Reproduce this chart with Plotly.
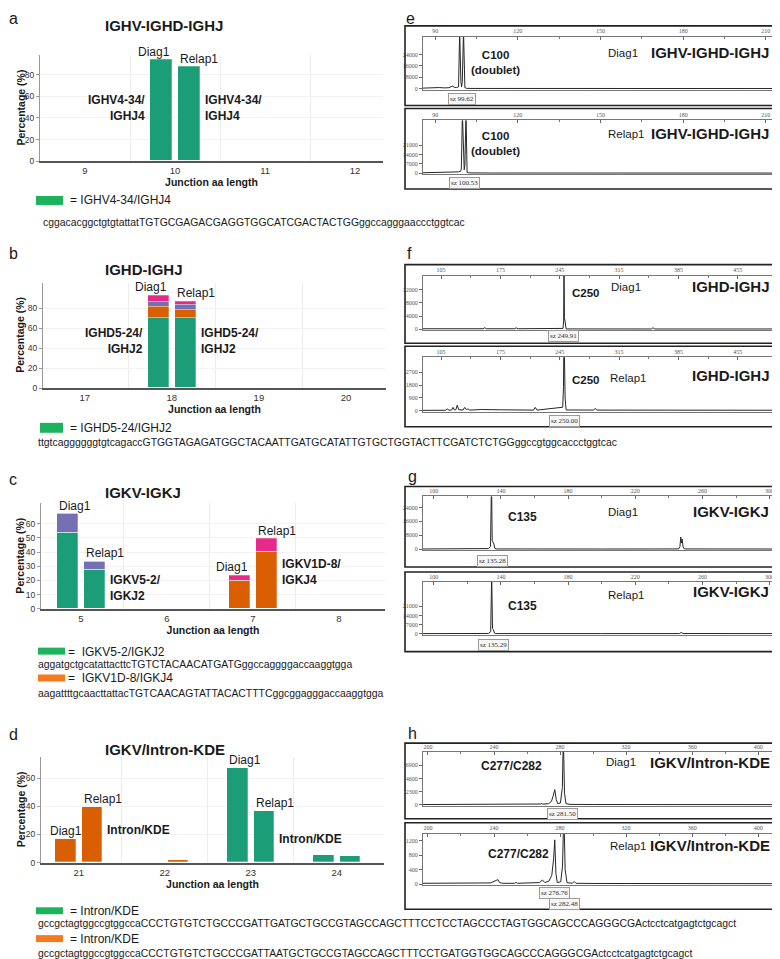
import plotly.graph_objects as go

W, H = 780, 959
SANS = "Liberation Sans, Arial, Helvetica, sans-serif"
SERIF = "Liberation Serif, Times New Roman, serif"
TXT = "#1a1a1a"

GREEN, ORANGE, PURPLE, MAGENTA = "#1b9e77", "#d95f02", "#7570b3", "#e7298a"
LEG_GREEN, LEG_ORANGE = "#1db35c", "#f47a20"

# ---------------- left column: junction length distributions (%) ----------------
a_lengths = [9, 10, 11, 12]
a_green_diag = [0, 94, 0.6, 0]
a_green_relap = [0, 87, 0.6, 0]

b_lengths = [17, 18, 19, 20]
b_green_diag = [0, 71, 0, 0]
b_green_relap = [0, 71, 0, 0]
b_orange_diag = [0, 11, 0, 0]
b_orange_relap = [0, 8, 0, 0]
b_purple_diag = [0, 5, 0, 0]
b_purple_relap = [0, 4.5, 0, 0]
b_magenta_diag = [0, 6, 0, 0]
b_magenta_relap = [0, 3.5, 0, 0]

c_lengths = [5, 6, 7, 8]
c_green_diag = [54, 0, 0, 0]
c_green_relap = [27.7, 0, 0, 0]
c_orange_diag = [0, 0, 20, 0]
c_orange_relap = [0, 0, 40.5, 0]
c_purple_diag = [13, 0, 0, 0]
c_purple_relap = [6, 0, 0, 0]
c_magenta_diag = [0, 0, 3.8, 0]
c_magenta_relap = [0, 0, 9, 0.4]

d_lengths = [21, 22, 23, 24]
d_orange_diag = [16.4, 0.4, 0, 0]
d_orange_relap = [39.6, 1.4, 0, 0]
d_green_diag = [0, 0, 67, 5.4]
d_green_relap = [0, 0, 36.3, 4.9]

a_legend = ["= IGHV4-34/IGHJ4"]
a_seqs = ["cggacacggctgtgtattatTGTGCGAGACGAGGTGGCATCGACTACTGGggccagggaaccctggtcac"]
b_legend = ["= IGHD5-24/IGHJ2"]
b_seqs = ["ttgtcaggggggtgtcagaccGTGGTAGAGATGGCTACAATTGATGCATATTGTGCTGGTACTTCGATCTCTGGggccgtggcaccctggtcac"]
c_legend = ["=  IGKV5-2/IGKJ2", "=  IGKV1D-8/IGKJ4"]
c_seqs = ["aggatgctgcatattacttcTGTCTACAACATGATGggccaggggaccaaggtgga",
          "aagattttgcaacttattacTGTCAACAGTATTACACTTTCggcggagggaccaaggtgga"]
d_legend = ["= Intron/KDE", "= Intron/KDE"]
d_seqs = ["gccgctagtggccgtggccaCCCTGTGTCTGCCCGATTGATGCTGCCGTAGCCAGCTTTCCTCCTAGCCCTAGTGGCAGCCCAGGGCGActcctcatgagtctgcagct",
          "gccgctagtggccgtggccaCCCTGTGTCTGCCCGATTAATGCTGCCGTAGCCAGCTTTCCTGATGGTGGCAGCCCAGGGCGActcctcatgagtctgcagct"]

# ---------------- right column: GeneScan electropherograms (size bp, RFU) ----------------
e_xticks = [90, 120, 150, 180, 210]
e_diag_yticks = [0, 8000, 16000, 24000]
e_relap_yticks = [0, 7000, 14000, 21000]
e_diag_bp = [85.6, 87.5, 89.5, 91.5, 93.5, 95.0, 95.8, 96.4, 97.0, 97.8, 98.5, 98.9, 99.35, 99.6, 99.85, 100.3, 100.8, 101.4, 103.0, 130.0, 170.0, 214.4]
e_diag_rfu = [300, 500, 350, 700, 450, 600, 1300, 1700, 800, 700, 1200, 40000, 5000, 1200, 5000, 40000, 600, 150, 60, 0, 0, 0]
e_relap_bp = [85.6, 90.0, 94.0, 97.0, 98.5, 99.2, 99.5, 99.9, 100.3, 100.55, 100.8, 101.2, 101.6, 102.2, 110.0, 150.0, 214.4]
e_relap_rfu = [250, 350, 300, 350, 900, 1300, 3000, 45000, 6000, 2500, 6000, 45000, 500, 150, 50, 0, 0]
e_diag_sz = [99.62]
e_relap_sz = [100.53]

f_xticks = [105, 175, 245, 315, 385, 455]
f_diag_yticks = [0, 4000, 8000, 12000]
f_relap_yticks = [0, 900, 1800, 2700]
f_diag_bp = [83.7, 120, 154.5, 156.5, 158.5, 191.5, 193.7, 196, 248.8, 249.6, 250.0, 250.5, 251.0, 251.6, 252.5, 353, 355, 357, 502.4]
f_diag_rfu = [150, 150, 150, 450, 150, 150, 400, 150, 250, 2500, 20000, 3500, 2800, 600, 100, 80, 450, 80, 80]
f_relap_bp = [83.7, 110.5, 112.4, 114.3, 117.5, 119.1, 120.7, 122.5, 124.1, 125.8, 131.0, 132.9, 134.8, 136.8, 138.8, 152.5, 176.0, 214.0, 216.1, 218.2, 248.5, 249.4, 250.0, 250.6, 251.3, 252.5, 285.0, 286.9, 288.8, 502.4]
f_relap_rfu = [30, 40, 130, 40, 60, 240, 60, 80, 400, 80, 60, 240, 90, 130, 50, 90, 70, 50, 240, 50, 250, 1700, 6000, 1400, 900, 60, 50, 170, 50, 40]
f_diag_sz = [249.91]
f_relap_sz = [250.00]

g_xticks = [100, 140, 180, 220, 260, 300]
g_diag_yticks = [0, 8000, 16000, 24000]
g_relap_yticks = [0, 7000, 14000, 21000]
g_diag_bp = [93.6, 120, 131.0, 132.5, 133.8, 134.4, 134.8, 135.3, 135.8, 136.4, 137.2, 200, 245.8, 246.6, 247.1, 247.5, 247.9, 248.5, 249.2, 305]
g_diag_rfu = [80, 100, 150, 300, 1500, 40000, 5000, 4000, 3000, 400, 100, 60, 100, 1500, 6900, 3500, 5800, 1200, 100, 60]
g_relap_bp = [93.6, 125, 132.5, 133.9, 134.5, 135.0, 135.5, 136.2, 137.0, 200, 246.3, 247.4, 248.5, 305]
g_relap_rfu = [60, 80, 150, 1500, 45000, 4000, 3200, 400, 80, 60, 100, 900, 120, 60]
g_diag_sz = [135.28]
g_relap_sz = [135.29]

h_xticks = [200, 240, 280, 320, 360, 400]
h_diag_yticks = [0, 2300, 4600, 6900]
h_relap_yticks = [0, 400, 800, 1200]
h_diag_bp = [197, 230, 255, 265, 268.0, 268.8, 269.6, 273.0, 274.8, 275.8, 276.8, 277.7, 278.6, 280.2, 281.4, 282.0, 282.7, 283.6, 286, 300, 412]
h_diag_rfu = [40, 50, 80, 100, 130, 200, 120, 180, 600, 1500, 2650, 900, 200, 300, 3000, 12000, 2000, 200, 70, 40, 30]
h_relap_bp = [197, 238, 241.4, 242.4, 243.4, 245, 252.5, 253.4, 254.3, 267.5, 269.3, 270.8, 273.3, 275.0, 276.1, 276.8, 277.5, 278.3, 280.4, 281.5, 282.3, 283.1, 284.2, 287.5, 288.5, 289.6, 300, 412]
h_relap_rfu = [30, 40, 110, 130, 50, 30, 30, 55, 30, 50, 120, 50, 90, 250, 700, 1220, 300, 50, 70, 500, 2000, 400, 50, 30, 80, 30, 25, 20]
h_diag_sz = [281.50]
h_relap_sz = [276.76, 282.48]


def X(p):
    return p / W


def Y(p):
    return 1 - p / H


fig = go.Figure()
ann, shapes, axes = [], [], {}
OFF, BW = 0.155, 0.24


def txt(text, x, y, size, bold=False, xanchor="center", yanchor="middle", family=SANS, color=TXT, **kw):
    if bold:
        text = "<b>" + text + "</b>"
    d = dict(text=text, x=X(x), y=Y(y), xref="paper", yref="paper", showarrow=False,
             xanchor=xanchor, yanchor=yanchor, font=dict(size=size, family=family, color=color))
    d.update(kw)
    ann.append(d)


bar_panels = [
    dict(letter="a", ly=0, title="IGHV-IGHD-IGHJ", ty=18, lengths=a_lengths,
         stacks=[(GREEN, a_green_diag, a_green_relap)],
         xpx=(32, 375), ypx=(47, 154), xr=(8.5, 12.31), ytop=98.4, yticks=[0, 20, 40, 60, 80],
         labels=[(1, "right", "left")],
         genes=[(1, "L", "IGHV4-34/<br>IGHJ4", 49), (1, "R", "IGHV4-34/<br>IGHJ4", 49)], xts=0,
         legend=[(LEG_GREEN, a_legend[0], a_seqs[0], (28, 55, 189, 198), 60, 193.5, 33, 216)]),
    dict(letter="b", ly=236, title="IGHD-IGHJ", ty=263, lengths=b_lengths,
         stacks=[(GREEN, b_green_diag, b_green_relap), (ORANGE, b_orange_diag, b_orange_relap),
                 (PURPLE, b_purple_diag, b_purple_relap), (MAGENTA, b_magenta_diag, b_magenta_relap)],
         xpx=(35, 378), ypx=(276, 382), xr=(16.52, 20.46), ytop=106, yticks=[0, 20, 40, 60, 80],
         labels=[(1, "right", "left")],
         genes=[(1, "L", "IGHD5-24/<br>IGHJ2", 47), (1, "R", "IGHD5-24/<br>IGHJ2", 47)], xts=0,
         legend=[(LEG_GREEN, b_legend[0], b_seqs[0], (32, 55, 417, 427), 60, 422, 28, 437)]),
    dict(letter="c", ly=463, title="IGKV-IGKJ", ty=487, lengths=c_lengths,
         stacks=[(GREEN, c_green_diag, c_green_relap), (ORANGE, c_orange_diag, c_orange_relap),
                 (PURPLE, c_purple_diag, c_purple_relap), (MAGENTA, c_magenta_diag, c_magenta_relap)],
         xpx=(33, 377), ypx=(498, 604), xr=(4.535, 8.535), ytop=74.2, yticks=[0, 10, 20, 30, 40, 50, 60],
         labels=[(0, "left", "left"), (2, "right", "left")],
         genes=[(0, "R", "IGKV5-2/<br>IGKJ2", 15), (2, "R", "IGKV1D-8/<br>IGKJ4", 26)], xts=0,
         legend=[(LEG_GREEN, c_legend[0], c_seqs[0], (30, 57, 643, 650), 58, 647, 28, 660),
                 (LEG_ORANGE, c_legend[1], c_seqs[1], (30, 57, 670, 677), 58, 674, 28, 689)]),
    dict(letter="d", ly=720, title="IGKV/Intron-KDE", ty=745, lengths=d_lengths,
         stacks=[(GREEN, d_green_diag, d_green_relap), (ORANGE, d_orange_diag, d_orange_relap)],
         xpx=(33, 376), ypx=(753, 859), xr=(20.56, 24.55), ytop=75, yticks=[0, 20, 40, 60],
         labels=[(0, "center", "left"), (2, "left", "left")],
         genes=[(0, "R", "Intron/KDE", 23), (2, "R", "Intron/KDE", 17)], xts=3,
         legend=[(LEG_GREEN, d_legend[0], d_seqs[0], (28, 55, 904, 911), 60, 907.5, 28, 920.5),
                 (LEG_ORANGE, d_legend[1], d_seqs[1], (28, 55, 932, 939), 60, 935.5, 28, 950)]),
]

idx = 0
for P in bar_panels:
    idx += 1
    s = "" if idx == 1 else str(idx)
    xref, yref = "x" + s, "y" + s
    n = len(P["lengths"])
    tot_d = [0.0] * n
    tot_r = [0.0] * n
    for color, dv, rv in P["stacks"]:
        xs = [c - OFF for c in P["lengths"]] + [c + OFF for c in P["lengths"]]
        fig.add_trace(go.Bar(x=xs, y=list(dv) + list(rv), width=BW,
                             marker=dict(color=color, line=dict(width=0.6, color="rgba(255,255,255,0.45)")),
                             xaxis=xref, yaxis=yref, showlegend=False, hoverinfo="skip"))
        for k in range(n):
            tot_d[k] += dv[k]
            tot_r[k] += rv[k]
    axes["xaxis" + s] = dict(
        domain=[X(P["xpx"][0]), X(P["xpx"][1])], anchor=yref, range=list(P["xr"]),
        tickmode="array", tickvals=P["lengths"], ticktext=[str(v) for v in P["lengths"]],
        showline=True, linecolor="#555", linewidth=1.6, ticks="", showgrid=False, zeroline=False,
        tickfont=dict(size=9.5, family=SANS, color="#333"),
        title=dict(text="<b>Junction aa length</b>", font=dict(size=10.5, family=SANS, color=TXT), standoff=P["xts"]),
        minor=dict(tickmode="array", tickvals=[c + 0.5 for c in P["lengths"][:-1]], showgrid=True,
                   gridcolor="#ececec", gridwidth=1, ticks=""))
    axes["yaxis" + s] = dict(
        domain=[Y(P["ypx"][1]), Y(P["ypx"][0])], anchor=xref, range=[0, P["ytop"]],
        tickmode="array", tickvals=P["yticks"], showline=True, linecolor="#999", linewidth=1,
        ticks="outside", ticklen=3, tickcolor="#999", showgrid=True, gridcolor="#f2f2f2", zeroline=False,
        tickfont=dict(size=8.5, family=SANS, color="#333"))
    txt("Percentage (%)", 12.5, (P["ypx"][0] + P["ypx"][1]) / 2, 10.5, bold=True, textangle=-90)
    for k, dal, ral in P["labels"]:
        c = P["lengths"][k]
        for name, tot, off, anc in (("Diag1", tot_d[k], -OFF, dal), ("Relap1", tot_r[k], OFF, ral)):
            xc = c + off
            xx = xc - BW / 2 if anc == "left" else (xc + BW / 2 if anc == "right" else xc)
            ann.append(dict(x=xx, y=tot, xref=xref, yref=yref, text=name, showarrow=False,
                            xanchor=anc, yanchor="bottom", yshift=-1,
                            font=dict(size=12, family=SANS, color=TXT)))
    for k, side, gtxt, gy in P["genes"]:
        c = P["lengths"][k]
        if side == "L":
            xx, anc, sh, al = c - OFF - BW / 2, "right", -3, "right"
        else:
            xx, anc, sh, al = c + OFF + BW / 2, "left", 3, "left"
        ann.append(dict(x=xx, y=gy, xref=xref, yref=yref, text="<b>" + gtxt + "</b>", showarrow=False,
                        xanchor=anc, yanchor="middle", xshift=sh, align=al,
                        font=dict(size=12, family=SANS, color=TXT)))
    txt(P["title"], 95, P["ty"], 15, bold=True, xanchor="left")
    txt(P["letter"], -1, P["ly"], 16, xanchor="left", yanchor="top")
    for color, ltxt, seq, (x0, x1, y0, y1), tx, ty, sx, sy in P["legend"]:
        shapes.append(dict(type="rect", xref="paper", yref="paper", x0=X(x0), x1=X(x1), y0=Y(y1), y1=Y(y0),
                           fillcolor=color, line=dict(width=0)))
        txt(ltxt, tx, ty, 12, xanchor="left")
        txt(seq, sx, sy, 10.4, xanchor="left")

# ---------------- electropherograms ----------------
ep_panels = [
    dict(bp=e_diag_bp, rfu=e_diag_rfu, box=(18, 98), inner=(29, 82), xr=(85.6, 214.4), ytop=36500,
         yticks=e_diag_yticks, xticks=e_xticks, sz=e_diag_sz, szy=[91.5],
         texts=[("C100<br>(doublet)", 487, 55, 11.5, True), ("Diag1", 615, 45, 11.5, False),
                ("IGHV-IGHD-IGHJ", 702, 45, 15, True)]),
    dict(bp=e_relap_bp, rfu=e_relap_rfu, box=(101, 182), inner=(113, 167), xr=(85.6, 214.4), ytop=39700,
         yticks=e_relap_yticks, xticks=e_xticks, sz=e_relap_sz, szy=[176],
         texts=[("C100<br>(doublet)", 487, 136, 11.5, True), ("Relap1", 618, 127, 11.5, False),
                ("IGHV-IGHD-IGHJ", 702, 126, 15, True)]),
    dict(bp=f_diag_bp, rfu=f_diag_rfu, box=(258, 337), inner=(269, 324), xr=(83.7, 502.4), ytop=16240,
         yticks=f_diag_yticks, xticks=f_xticks, sz=f_diag_sz, szy=[330],
         texts=[("C250", 578, 286, 11.5, True), ("Diag1", 618, 280, 11.5, False),
                ("IGHD-IGHJ", 723, 280, 15, True)]),
    dict(bp=f_relap_bp, rfu=f_relap_rfu, box=(340, 421), inner=(351, 406), xr=(83.7, 502.4), ytop=3760,
         yticks=f_relap_yticks, xticks=f_xticks, sz=f_relap_sz, szy=[415],
         texts=[("C250", 578, 374, 11.5, True), ("Relap1", 620, 372, 11.5, False),
                ("IGHD-IGHJ", 723, 369, 15, True)]),
    dict(bp=g_diag_bp, rfu=g_diag_rfu, box=(481, 562), inner=(491, 545), xr=(93.6, 305), ytop=30400,
         yticks=g_diag_yticks, xticks=g_xticks, sz=g_diag_sz, szy=[556],
         texts=[("C135", 514, 512, 12, True), ("Diag1", 615, 507, 11.5, False),
                ("IGKV-IGKJ", 723, 506, 15, True)]),
    dict(bp=g_relap_bp, rfu=g_relap_rfu, box=(567, 647), inner=(577, 630), xr=(93.6, 305), ytop=39600,
         yticks=g_relap_yticks, xticks=g_xticks, sz=g_relap_sz, szy=[640.5],
         texts=[("C135", 514, 601, 12, True), ("Relap1", 618, 590, 11.5, False),
                ("IGKV-IGKJ", 723, 587, 15, True)]),
    dict(bp=h_diag_bp, rfu=h_diag_rfu, box=(739, 815), inner=(748, 802), xr=(197, 412), ytop=9200,
         yticks=h_diag_yticks, xticks=h_xticks, sz=h_diag_sz, szy=[810],
         texts=[("C277/C282", 503, 762, 12, True), ("Diag1", 613, 758, 11.5, False),
                ("IGKV/Intron-KDE", 702, 758, 15, True)]),
    dict(bp=h_relap_bp, rfu=h_relap_rfu, box=(819, 906), inner=(830, 882), xr=(197, 412), ytop=1390,
         yticks=h_relap_yticks, xticks=h_xticks, sz=h_relap_sz, szy=[890, 901],
         texts=[("C277/C282", 510, 850, 12, True), ("Relap1", 620, 842, 11.5, False),
                ("IGKV/Intron-KDE", 702, 842, 15, True)]),
]

for E in ep_panels:
    idx += 1
    s = str(idx)
    xref, yref = "x" + s, "y" + s
    fig.add_trace(go.Scatter(x=E["bp"], y=E["rfu"], mode="lines", line=dict(color="#262626", width=1),
                             xaxis=xref, yaxis=yref, showlegend=False, hoverinfo="skip"))
    xt = E["xticks"]
    axes["xaxis" + s] = dict(
        domain=[X(415), X(770)], anchor=yref, side="top", range=list(E["xr"]),
        tickmode="array", tickvals=xt, ticktext=[str(v) for v in xt], ticks="inside", ticklen=3,
        tickcolor="#666", showline=True, mirror=True, linecolor="#777", linewidth=1,
        showgrid=False, zeroline=False, tickfont=dict(size=6, family=SERIF, color="#555"),
        minor=dict(tickmode="array", tickvals=[(p + q) / 2 for p, q in zip(xt[:-1], xt[1:])],
                   ticks="inside", ticklen=2, tickcolor="#777", showgrid=False))
    axes["yaxis" + s] = dict(
        domain=[Y(E["inner"][1]), Y(E["inner"][0])], anchor=xref, range=[-0.02 * E["ytop"], E["ytop"]],
        tickmode="array", tickvals=E["yticks"], ticktext=[str(v) for v in E["yticks"]],
        ticks="outside", ticklen=3, tickcolor="#666",
        showline=True, mirror=True, linecolor="#777", linewidth=1, showgrid=False, zeroline=False,
        tickfont=dict(size=6, family=SERIF, color="#555"))
    shapes.append(dict(type="rect", xref="paper", yref="paper", x0=X(397), x1=X(779),
                       y0=Y(E["box"][1]), y1=Y(E["box"][0]), line=dict(color="#222", width=1.6)))
    for v, yy in zip(E["sz"], E["szy"]):
        ann.append(dict(x=v, y=Y(yy), xref=xref, yref="paper", text="sz %.2f" % v, showarrow=False,
                        xanchor="center", yanchor="middle", bgcolor="#f6f6f6", bordercolor="#9a9a9a",
                        borderwidth=1, borderpad=1, font=dict(size=7, family=SERIF, color="#333")))
    for t, x, y, size, bold in E["texts"]:
        txt(t, x, y, size, bold=bold)

for L, lx, ly in (("e", 396, 0), ("f", 397, 236), ("g", 398, 460), ("h", 398, 719)):
    txt(L, lx, ly, 16, xanchor="left", yanchor="top")

fig.update_layout(width=W, height=H, margin=dict(l=0, r=0, t=0, b=0), paper_bgcolor="white",
                  plot_bgcolor="white", barmode="stack", bargap=0, annotations=ann, shapes=shapes,
                  font=dict(family=SANS, color=TXT), **axes)
fig.write_html("out.html")
